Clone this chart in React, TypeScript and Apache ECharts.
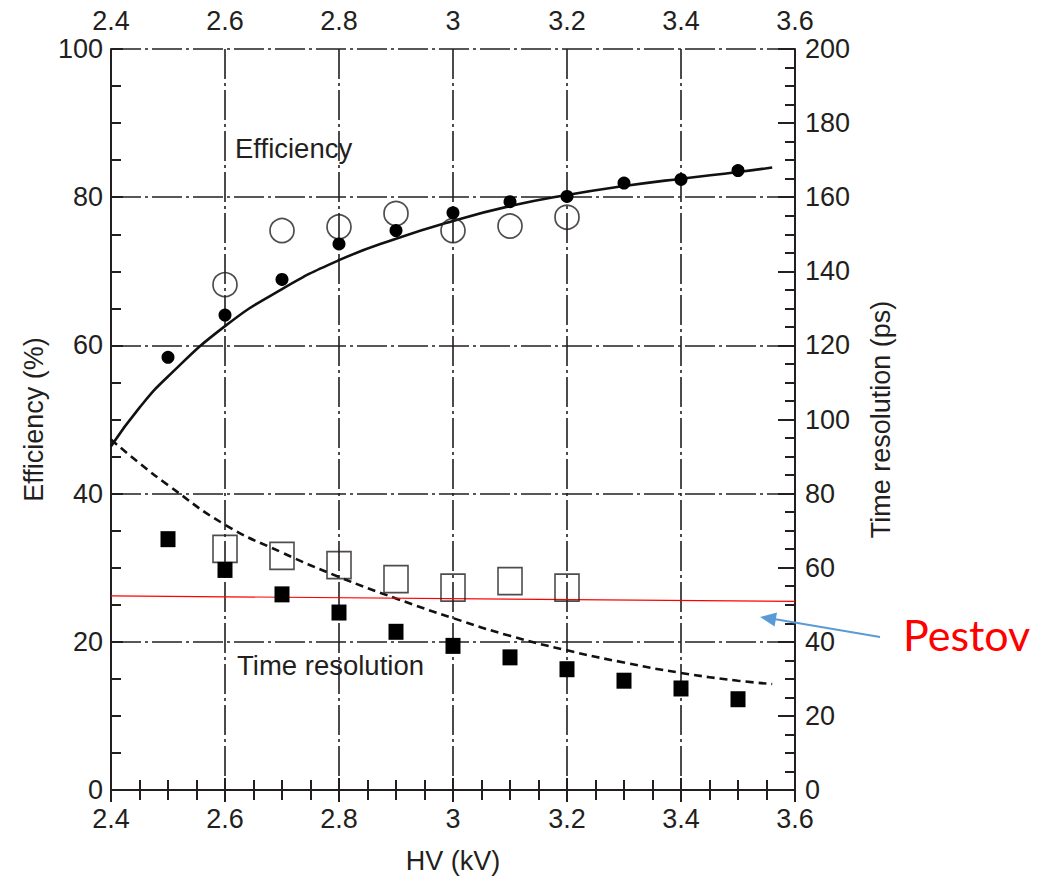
import React, { useEffect, useRef } from "react";
import * as echarts from "echarts";

// HV values (kV)
const hvFilled = [2.5, 2.6, 2.7, 2.8, 2.9, 3.0, 3.1, 3.2, 3.3, 3.4, 3.5];
const hvOpen = [2.6, 2.7, 2.8, 2.9, 3.0, 3.1, 3.2];
// Efficiency (%)
const effFilled = [58.4, 64.1, 68.9, 73.7, 75.5, 77.9, 79.4, 80.1, 81.9, 82.4, 83.6];
const effOpen = [68.2, 75.5, 76.0, 77.8, 75.5, 76.1, 77.3];
// Time resolution (ps)
const timeFilled = [67.7, 59.4, 52.8, 47.9, 42.7, 38.9, 35.8, 32.6, 29.5, 27.4, 24.5];
const timeOpen = [65.1, 63.2, 60.7, 56.9, 54.6, 56.4, 54.6];
// Fit curves
const fitHv = [2.4, 2.45, 2.5, 2.6, 2.7, 2.8, 2.9, 3.0, 3.1, 3.2, 3.3, 3.4, 3.5, 3.56];
const effFit = [46.4, 51.6, 55.8, 62.6, 67.6, 71.5, 74.4, 76.8, 78.8, 80.3, 81.5, 82.5, 83.4, 84.0];
const timeFit = [94.6, 88.2, 82.3, 71.6, 64.1, 57.5, 51.7, 46.4, 41.6, 37.7, 34.4, 31.6, 29.5, 28.6];
// Pestov reference line (ps)
const pestovHv = [2.4, 3.6];
const pestovPs = [52.4, 50.9];

const FONT = "'Liberation Sans', Arial, Helvetica, sans-serif";
const TXT = "#231f20";
const DASHDOT = [30, 4, 3, 4];
const FS = 27;

const zip = (xs: number[], ys: number[]) => xs.map((x, i) => [x, ys[i]]);

export default function App() {
  const ref = useRef<HTMLDivElement>(null);
  useEffect(() => {
    document.body.style.margin = "0";
    const chart = echarts.init(ref.current!, null, { renderer: "svg" });
    const fmtX = (v: number) => String(+v.toFixed(1));
    const xCommon = {
      type: "value",
      min: 2.4,
      max: 3.6,
      interval: 0.2,
      axisLine: { show: true, lineStyle: { color: "#231f20", width: 2 } },
      axisTick: { show: true, inside: true, length: 12, lineStyle: { color: "#231f20", width: 2 } },
      minorTick: { show: true, splitNumber: 4, length: 10, lineStyle: { color: "#231f20", width: 2 } },
      axisLabel: { color: TXT, fontSize: FS, fontFamily: FONT, formatter: fmtX },
    };
    const option = {
      animation: false,
      backgroundColor: "#fff",
      textStyle: { fontFamily: FONT },
      grid: { left: 111, top: 49, width: 684, height: 742, containLabel: false },
      xAxis: [
        {
          ...xCommon,
          position: "bottom",
          name: "HV (kV)",
          nameLocation: "middle",
          nameGap: 57,
          nameTextStyle: { color: TXT, fontSize: FS, fontFamily: FONT },
          axisLabel: { ...xCommon.axisLabel, margin: 15 },
          splitLine: { show: true, lineStyle: { color: "#231f20", width: 1.6, type: DASHDOT } },
        },
        {
          ...xCommon,
          position: "top",
          axisLabel: { ...xCommon.axisLabel, margin: 15 },
          splitLine: { show: false },
        },
      ],
      yAxis: [
        {
          type: "value",
          position: "left",
          min: 0,
          max: 100,
          interval: 20,
          name: "Efficiency (%)",
          nameLocation: "middle",
          nameGap: 62,
          nameTextStyle: { color: TXT, fontSize: FS, fontFamily: FONT },
          axisLine: { show: true, lineStyle: { color: "#231f20", width: 2 } },
          axisTick: { show: true, inside: true, length: 12, lineStyle: { color: "#231f20", width: 2 } },
          minorTick: { show: true, splitNumber: 4, length: 10, lineStyle: { color: "#231f20", width: 2 } },
          axisLabel: { color: TXT, fontSize: FS, fontFamily: FONT, margin: 8 },
          splitLine: { show: true, lineStyle: { color: "#231f20", width: 1.6, type: DASHDOT } },
        },
        {
          type: "value",
          position: "right",
          min: 0,
          max: 200,
          interval: 20,
          name: "Time resolution (ps)",
          nameLocation: "middle",
          nameGap: 72,
          nameTextStyle: { color: TXT, fontSize: FS, fontFamily: FONT },
          axisLine: { show: true, lineStyle: { color: "#231f20", width: 2 } },
          axisTick: { show: true, inside: true, length: 17, lineStyle: { color: "#231f20", width: 2 } },
          minorTick: { show: true, splitNumber: 4, length: 10, lineStyle: { color: "#231f20", width: 2 } },
          axisLabel: { color: TXT, fontSize: FS, fontFamily: FONT, margin: 10 },
          splitLine: { show: false },
        },
      ],
      series: [
        {
          type: "line",
          name: "Efficiency fit",
          yAxisIndex: 0,
          data: zip(fitHv, effFit),
          smooth: 0.5,
          symbol: "none",
          lineStyle: { color: "#111", width: 2.6 },
          z: 3,
        },
        {
          type: "line",
          name: "Time resolution fit",
          yAxisIndex: 1,
          data: zip(fitHv, timeFit),
          smooth: 0.5,
          symbol: "none",
          lineStyle: { color: "#111", width: 2.6, type: [8, 5] },
          z: 3,
        },
        {
          type: "line",
          name: "Pestov",
          yAxisIndex: 1,
          data: zip(pestovHv, pestovPs),
          symbol: "none",
          lineStyle: { color: "#ff0000", width: 1.2 },
          z: 3,
        },
        {
          type: "scatter",
          name: "Efficiency open",
          yAxisIndex: 0,
          data: zip(hvOpen, effOpen),
          symbol: "circle",
          symbolSize: 24,
          itemStyle: { color: "rgba(0,0,0,0)", borderColor: "#231f20", borderWidth: 1.7 },
          z: 4,
        },
        {
          type: "scatter",
          name: "Efficiency",
          yAxisIndex: 0,
          data: zip(hvFilled, effFilled),
          symbol: "circle",
          symbolSize: 13,
          itemStyle: { color: "#000", opacity: 1 },
          z: 5,
        },
        {
          type: "scatter",
          name: "Time open",
          yAxisIndex: 1,
          data: zip(hvOpen, timeOpen),
          symbol: "rect",
          symbolSize: [24, 27],
          itemStyle: { color: "rgba(0,0,0,0)", borderColor: "#231f20", borderWidth: 1.7 },
          z: 4,
        },
        {
          type: "scatter",
          name: "Time resolution",
          yAxisIndex: 1,
          data: zip(hvFilled, timeFilled),
          symbol: "rect",
          symbolSize: [15, 16],
          itemStyle: { color: "#000", opacity: 1 },
          z: 5,
        },
      ],
      graphic: [
        {
          type: "text",
          left: 235,
          top: 134,
          style: { text: "Efficiency", fill: TXT, font: `27.5px ${FONT}` },
          z: 10,
        },
        {
          type: "text",
          left: 237,
          top: 651,
          style: { text: "Time resolution", fill: TXT, font: `27.5px ${FONT}` },
          z: 10,
        },
        {
          type: "line",
          shape: { x1: 880, y1: 637, x2: 774, y2: 619 },
          style: { stroke: "#5b9bd5", lineWidth: 2.2 },
          z: 10,
        },
        {
          type: "polygon",
          shape: { points: [[760, 617], [777, 612.5], [774.6, 626.5]] },
          style: { fill: "#5b9bd5" },
          z: 10,
        },
        {
          type: "text",
          left: 903,
          top: 613,
          style: { text: "Pestov", fill: "#ff0000", font: `43px Lato, 'Open Sans', sans-serif` },
          z: 10,
        },
      ],
    };
    chart.setOption(option as any);
    return () => chart.dispose();
  }, []);
  return (
    <div
      ref={ref}
      style={{ position: "fixed", left: 0, top: 0, width: 1061, height: 879 }}
    />
  );
}
